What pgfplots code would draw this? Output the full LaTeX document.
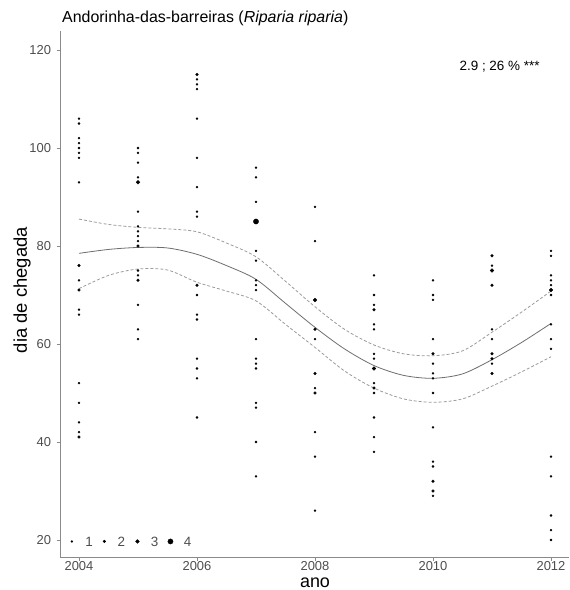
\documentclass[border=0pt]{standalone}
\usepackage{pgfplots}
\pgfplotsset{compat=1.18}
\usepackage{fontspec}
\setmainfont{Liberation Sans}
\definecolor{axgray}{HTML}{8A8A8A}
\definecolor{tickgray}{HTML}{4D4D4D}
\definecolor{curvegray}{HTML}{6E6E6E}
\definecolor{dashgray}{HTML}{9A9A9A}
\begin{document}
\begin{tikzpicture}
\begin{axis}[
  at={(0,0)}, anchor=south west,
  scale only axis,
  width=508.7bp, height=526.1bp,
  xmin=2003.678, xmax=2012.3,
  ymin=16.53, ymax=123.9,
  axis x line*=bottom, axis y line*=left,
  axis line style={axgray, line width=0.8bp, -},
  xtick={2004,2006,2008,2010,2012},
  ytick={20,40,60,80,100,120},
  tick align=outside,
  major tick length=3.5bp,
  tick style={axgray, line width=0.8bp},
  /pgf/number format/assume math mode=true,
  /pgf/number format/1000 sep={},
  xticklabel style={font=\fontsize{13}{14}\selectfont, text=tickgray, inner sep=1bp},
  yticklabel style={font=\fontsize{13}{14}\selectfont, text=tickgray, xshift=-2bp},
  clip=false,
]
% fitted curve and confidence band
\addplot[curvegray, line width=0.8bp, smooth] coordinates {
(2004,78.5) (2004.5,79.3) (2005,79.7) (2005.5,79.6) (2006,78.3) (2006.5,76.0) (2007,73.2) (2007.5,68.3) (2008,63.4) (2008.5,59.0) (2009,55.6) (2009.5,53.6) (2010,53.0) (2010.5,53.9) (2011,56.8) (2011.5,60.3) (2012,64.2)};
\addplot[dashgray, line width=0.8bp, dashed, dash pattern=on 3bp off 2bp, smooth] coordinates {
(2004,85.5) (2004.5,84.4) (2005,83.8) (2005.5,83.5) (2006,82.9) (2006.5,80.6) (2007,77.8) (2007.5,72.8) (2008,67.6) (2008.5,63.0) (2009,59.8) (2009.5,58.0) (2010,57.6) (2010.5,58.6) (2011,62.4) (2011.5,66.5) (2012,70.8)};
\addplot[dashgray, line width=0.8bp, dashed, dash pattern=on 3bp off 2bp, smooth] coordinates {
(2004,71.3) (2004.5,74.0) (2005,75.3) (2005.5,75.1) (2006,72.6) (2006.5,70.8) (2007,68.8) (2007.5,64.0) (2008,59.3) (2008.5,54.5) (2009,51.0) (2009.5,48.8) (2010,48.1) (2010.5,48.8) (2011,51.4) (2011.5,54.3) (2012,57.4)};
% points: one occurrence
\addplot[only marks, mark=*, mark size=1.0bp, black] table {
x y
2004 106
2004 105
2004 102
2004 101
2004 100
2004 99
2004 98
2004 93
2004 73
2004 67
2004 66
2004 52
2004 48
2004 44
2004 42
2005 100
2005 99
2005 97
2005 94
2005 87
2005 84
2005 83
2005 82
2005 81
2005 75
2005 74
2005 68
2005 63
2005 61
2006 114
2006 113
2006 112
2006 106
2006 98
2006 92
2006 87
2006 86
2006 70
2006 66
2006 65
2006 57
2006 55
2006 53
2006 45
2007 96
2007 94
2007 89
2007 79
2007 77
2007 73
2007 72
2007 71
2007 61
2007 57
2007 56
2007 55
2007 48
2007 47
2007 40
2007 33
2008 88
2008 81
2008 61
2008 51
2008 42
2008 37
2008 26
2009 74
2009 70
2009 68
2009 64
2009 63
2009 58
2009 57
2009 52
2009 50
2009 45
2009 41
2009 38
2010 73
2010 70
2010 69
2010 61
2010 56
2010 54
2010 53
2010 50
2010 43
2010 36
2010 35
2010 29
2011 76
2011 63
2011 61
2011 56
2012 79
2012 78
2012 74
2012 73
2012 72
2012 70
2012 64
2012 61
2012 59
2012 37
2012 33
2012 25
2012 22
2012 20
2003.88 19.7
};
% two occurrences
\addplot[only marks, mark=*, mark size=1.35bp, black] table {
x y
2004 76
2004 71
2004 41
2005 80
2005 73
2006 115
2006 72
2008 63
2008 54
2008 50
2009 67
2009 51
2010 58
2010 32
2010 30
2011 78
2011 72
2011 58
2011 57
2011 54
2004.43 19.7
};
% three occurrences
\addplot[only marks, mark=*, mark size=1.85bp, black] table {
x y
2005 93
2008 69
2009 55
2011 75
2012 71
2004.99 19.7
};
% four occurrences
\addplot[only marks, mark=*, mark size=2.6bp, black] table {
x y
2007 85
2005.55 19.7
};
\node[font=\fontsize{13.5}{15}\selectfont, text=tickgray] at (axis cs:2004.17,19.7) {1};
\node[font=\fontsize{13.5}{15}\selectfont, text=tickgray] at (axis cs:2004.72,19.7) {2};
\node[font=\fontsize{13.5}{15}\selectfont, text=tickgray] at (axis cs:2005.28,19.7) {3};
\node[font=\fontsize{13.5}{15}\selectfont, text=tickgray] at (axis cs:2005.84,19.7) {4};
\node[anchor=east, inner sep=0pt, font=\fontsize{13.5}{15}\selectfont] at (axis cs:2011.81,116.5) {2.9 ; 26 \% ***};
\end{axis}
\node[anchor=base west, inner sep=0pt, font=\fontsize{16}{18}\selectfont] at (2bp,534bp) {Andorinha-das-barreiras (\textit{Riparia riparia})};
\node[rotate=90, inner sep=0pt, font=\fontsize{18.5}{20}\selectfont] at (-38bp,267bp) {dia de chegada};
\node[inner sep=0pt, font=\fontsize{18}{20}\selectfont] at (255bp,-25.5bp) {ano};
\path (-60bp,-33bp) rectangle (509bp,557bp);
\end{tikzpicture}
\end{document}
